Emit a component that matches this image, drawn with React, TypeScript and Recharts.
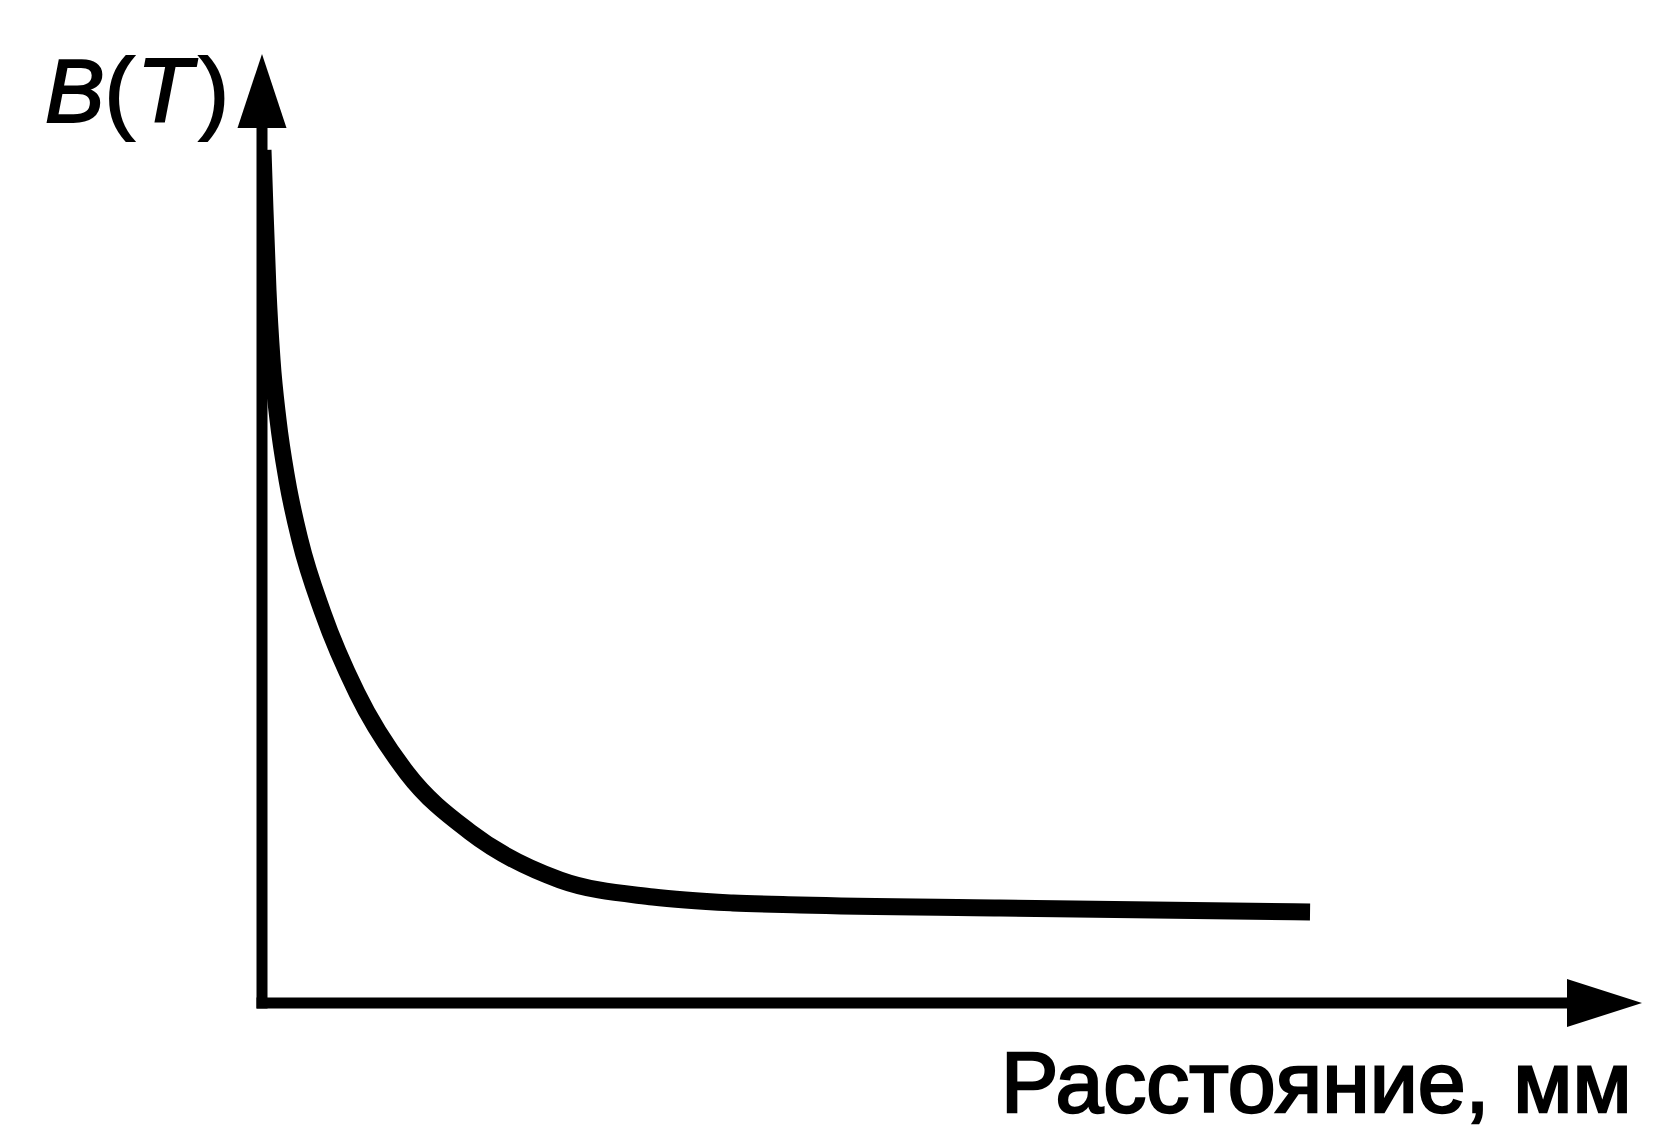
import React from "react";
import {
  LineChart,
  Line,
  XAxis,
  YAxis,
  ReferenceDot,
  ReferenceLine,
  Customized,
} from "recharts";

// Distance (arbitrary units, 0..100 across the x axis)
const distance = [
  0.077, 0.23, 0.46, 0.77, 1.23, 1.92, 2.91, 4.67, 7.28, 11.11, 15.94, 22.84,
  29.96, 36.09, 41.23, 56.55, 80.31,
];
// Magnetic induction B(T) (arbitrary units, 0..100 up the y axis)
const induction = [
  97.49, 90.63, 81.49, 73.49, 66.63, 59.77, 52.91, 44.57, 35.43, 26.29, 19.54,
  14.06, 12.11, 11.43, 11.2, 10.86, 10.4,
];

const yAxisTitleParts = ["B", "(", "T", ")"];
const xAxisTitle = "Расстояние, мм";

const data = distance.map((d, i) => ({ d, b: induction[i] }));

const FONT = "'Liberation Sans', Arial, Helvetica, sans-serif";

const XArrow = (props: any) => {
  const { cx, cy } = props;
  return (
    <polygon
      points={`${cx},${cy - 24} ${cx + 75},${cy} ${cx},${cy + 24}`}
      fill="#000"
    />
  );
};

const YArrow = (props: any) => {
  const { cx, cy } = props;
  return (
    <polygon
      points={`${cx - 24.5},${cy} ${cx},${cy - 74} ${cx + 24.5},${cy}`}
      fill="#000"
    />
  );
};

const Titles = () => (
  <g fontFamily={FONT} fill="#000" stroke="#000">
    <text y={122} fontSize={90} strokeWidth={2}>
      <tspan x={45} fontStyle="italic" fontSize={89}>
        {yAxisTitleParts[0]}
      </tspan>
      <tspan x={104.5}>{yAxisTitleParts[1]}</tspan>
      <tspan x={137} fontStyle="italic">
        {yAxisTitleParts[2]}
      </tspan>
      <tspan x={199}>{yAxisTitleParts[3]}</tspan>
    </text>
    <text x={1001} y={1112} fontSize={86} strokeWidth={2.5}>
      {xAxisTitle}
    </text>
  </g>
);

export default function App() {
  return (
    <div style={{ position: "absolute", left: 0, top: 0, background: "#fff" }}>
      <LineChart
        width={1655}
        height={1133}
        data={data}
        margin={{ top: 128, right: 88, bottom: 130, left: 262 }}
      >
        <XAxis type="number" dataKey="d" domain={[0, 100]} allowDataOverflow hide />
        <YAxis type="number" domain={[0, 100]} allowDataOverflow hide />
        <ReferenceLine
          segment={[
            { x: -0.42, y: 0 },
            { x: 100, y: 0 },
          ]}
          stroke="#000"
          strokeWidth={11}
          ifOverflow="visible"
        />
        <ReferenceLine
          segment={[
            { x: 0, y: -0.63 },
            { x: 0, y: 100 },
          ]}
          stroke="#000"
          strokeWidth={11}
          ifOverflow="visible"
        />
        <Line
          type="monotone"
          dataKey="b"
          stroke="#000"
          strokeWidth={17}
          dot={false}
          activeDot={false}
          isAnimationActive={false}
        />
        <ReferenceDot x={100} y={0} r={1} shape={XArrow} ifOverflow="visible" />
        <ReferenceDot x={0} y={100} r={1} shape={YArrow} ifOverflow="visible" />
        <Customized component={Titles} />
      </LineChart>
    </div>
  );
}
